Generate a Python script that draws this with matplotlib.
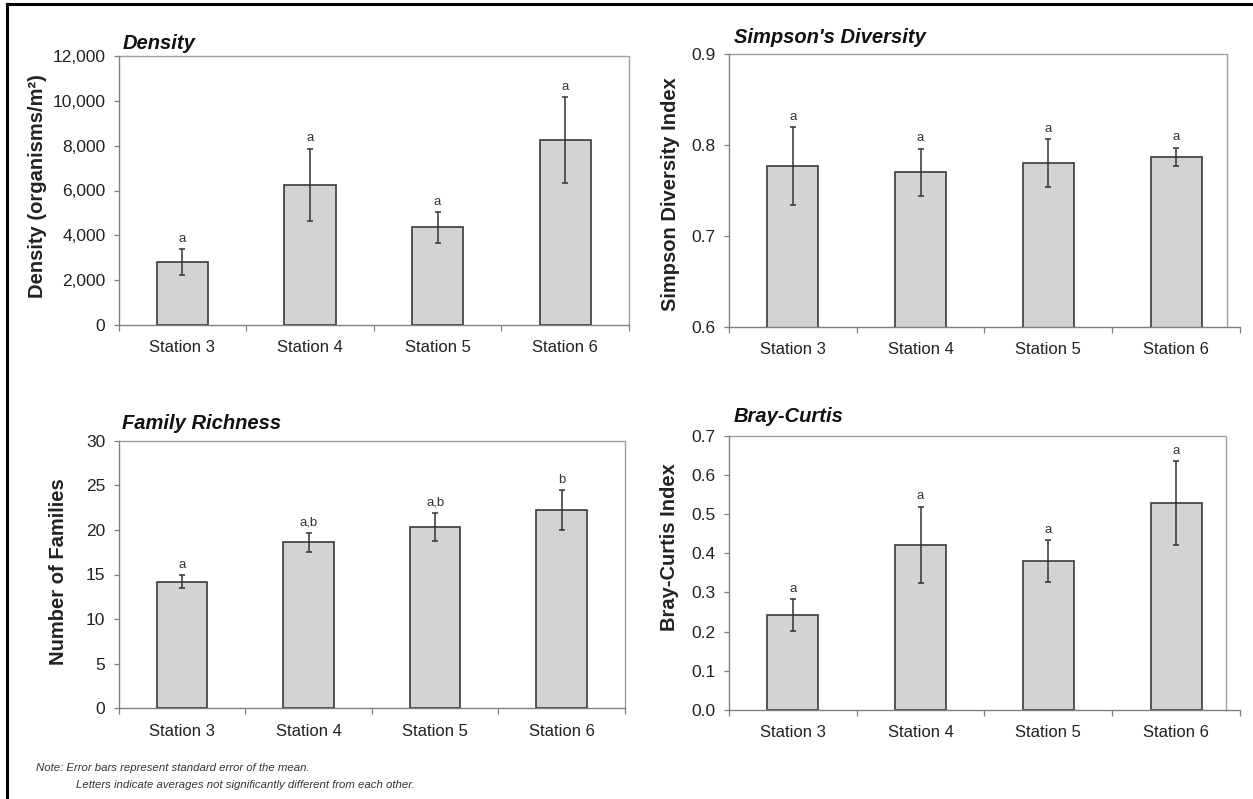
import numpy as np
import matplotlib.pyplot as plt
from matplotlib.lines import Line2D
from matplotlib.ticker import FuncFormatter, MultipleLocator, FixedLocator

plt.rcParams['font.family'] = ['Liberation Sans', 'DejaVu Sans']

stations = ['Station 3', 'Station 4', 'Station 5', 'Station 6']

density = [2800, 6250, 4350, 8250]
density_se = [580, 1620, 670, 1910]
density_grp = ['a', 'a', 'a', 'a']

simpson = [0.777, 0.770, 0.780, 0.787]
simpson_se = [0.043, 0.026, 0.026, 0.010]
simpson_grp = ['a', 'a', 'a', 'a']

families = [14.2, 18.6, 20.3, 22.2]
families_se = [0.7, 1.1, 1.6, 2.25]
families_grp = ['a', 'a,b', 'a,b', 'b']

bray = [0.242, 0.422, 0.380, 0.528]
bray_se = [0.041, 0.097, 0.054, 0.107]
bray_grp = ['a', 'a', 'a', 'a']

W, H = 1253, 799
fig = plt.figure(figsize=(W / 100, H / 100), dpi=100)

AXIS_C = '#808080'
FRAME_C = '#a0a0a0'
TEXT_C = '#222222'


def px_rect(left, right, top, bottom):
    return [left / W, 1 - bottom / H, (right - left) / W, (bottom - top) / H]


def panel(rect, title, title_xy, ylabel, label_xy, vals, se, grp,
          ylim, ystep, fmt, frame_right=1.0):
    ax = fig.add_axes(rect)
    x = np.arange(len(stations))
    ax.bar(x, vals, width=0.4, color='#d3d3d3', edgecolor='#3a3a3a',
           linewidth=1.2, zorder=2)
    ax.errorbar(x, vals, yerr=se, fmt='none', ecolor='#333333',
                elinewidth=1.1, capsize=2.5, capthick=1.1, zorder=3)
    for xi, v, s, g in zip(x, vals, se, grp):
        ax.annotate(g, (xi, v + s), xytext=(0, 3), textcoords='offset points',
                    ha='center', va='bottom', fontsize=9.5, color='#333333')

    ax.set_xlim(-0.5, len(stations) - 0.5)
    ax.set_ylim(*ylim)
    ax.yaxis.set_major_locator(MultipleLocator(ystep))
    ax.yaxis.set_major_formatter(FuncFormatter(fmt))
    ax.set_xticks(x)
    ax.set_xticklabels(stations)
    ax.xaxis.set_minor_locator(FixedLocator(np.arange(-0.5, len(stations), 1.0)))

    ax.tick_params(axis='y', direction='out', length=3.5, width=0.9,
                   color=AXIS_C, labelsize=12.5, pad=6, labelcolor=TEXT_C)
    ax.tick_params(axis='x', which='major', length=0, labelsize=12,
                   pad=11, labelcolor=TEXT_C)
    ax.tick_params(axis='x', which='minor', direction='out', length=4,
                   width=0.9, color=AXIS_C)

    for side in ['left', 'bottom']:
        ax.spines[side].set_color(AXIS_C)
        ax.spines[side].set_linewidth(1.0)
    ax.spines['top'].set_visible(False)
    ax.spines['right'].set_visible(False)
    # plot area frame (top and right edge)
    ax.plot([0, frame_right, frame_right], [1, 1, 0], transform=ax.transAxes,
            color=FRAME_C, lw=1.0, clip_on=False, zorder=1)

    ax.set_ylabel(ylabel, fontsize=14.5, fontweight='bold', color=TEXT_C,
                  va='center')
    ax.yaxis.set_label_coords(*label_xy)
    ax.text(title_xy[0], title_xy[1], title, transform=ax.transAxes,
            fontsize=14.5, fontweight='bold', fontstyle='italic',
            ha='left', va='center', color='#111111')
    return ax


panel(px_rect(118.6, 629, 56, 325), 'Density', (0.007, 1.048),
      'Density (organisms/m²)', (-0.159, 0.515),
      density, density_se, density_grp, (0, 12000), 2000,
      lambda v, p: f'{v:,.0f}')

panel(px_rect(729, 1240, 54, 326.7), "Simpson's Diversity", (0.010, 1.059),
      'Simpson Diversity Index', (-0.115, 0.487),
      simpson, simpson_se, simpson_grp, (0.6, 0.9), 0.1,
      lambda v, p: f'{v:.1f}', frame_right=0.974)

panel(px_rect(118.6, 625, 440.7, 708.3), 'Family Richness', (0.007, 1.066),
      'Number of Families', (-0.118, 0.509),
      families, families_se, families_grp, (0, 30), 5,
      lambda v, p: f'{v:.0f}')

panel(px_rect(729, 1240, 435.7, 710), 'Bray-Curtis', (0.010, 1.069),
      'Bray-Curtis Index', (-0.1155, 0.594),
      bray, bray_se, bray_grp, (0, 0.7), 0.1,
      lambda v, p: f'{v:.1f}', frame_right=0.972)

fig.text(36 / W, 1 - 768 / H,
         'Note: Error bars represent standard error of the mean.',
         fontsize=8.2, fontstyle='italic', color='#333333', va='center')
fig.text(76 / W, 1 - 785 / H,
         'Letters indicate averages not significantly different from each other.',
         fontsize=8.2, fontstyle='italic', color='#333333', va='center')

# outer border (left and top edges)
fig.add_artist(Line2D([7 / W, 7 / W], [0, 1 - 4 / H], transform=fig.transFigure,
                      color='black', lw=2.2))
fig.add_artist(Line2D([7 / W, 1], [1 - 4 / H, 1 - 4 / H], transform=fig.transFigure,
                      color='black', lw=2.2))

fig.savefig('out.png', dpi=100)
